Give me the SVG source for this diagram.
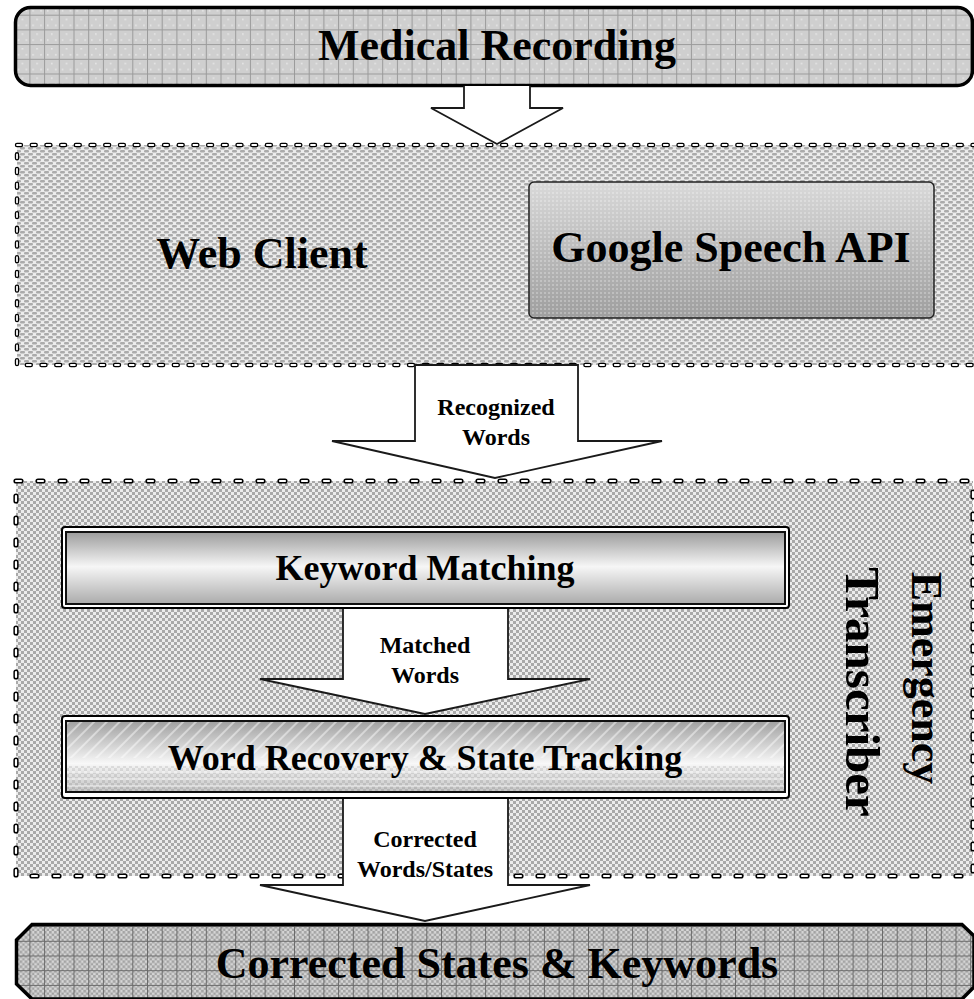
<svg xmlns="http://www.w3.org/2000/svg" width="974" height="999" viewBox="0 0 974 999">
  <defs>
    <!-- light grid with small dots -->
    <pattern id="gridLight" width="14.7" height="14.7" patternUnits="userSpaceOnUse">
      <rect width="14.7" height="14.7" fill="#cfcfcf"/>
      <path d="M0 0.5H14.7M0.5 0V14.7" stroke="#9a9a9a" stroke-width="1"/>
      <rect x="7" y="4" width="1.4" height="1.4" fill="#eeeeee"/>
      <rect x="3" y="10" width="1.4" height="1.4" fill="#eeeeee"/>
      <rect x="11" y="10" width="1.4" height="1.4" fill="#eeeeee"/>
    </pattern>
    <!-- brick dot fill -->
    <pattern id="brick" width="8" height="6" patternUnits="userSpaceOnUse">
      <rect width="8" height="6" fill="#ececec"/>
      <rect x="0" y="0" width="5" height="2.4" rx="1.2" fill="#ababab"/>
      <rect x="4" y="3" width="5" height="2.4" rx="1.2" fill="#ababab"/>
      <rect x="-4" y="3" width="5" height="2.4" rx="1.2" fill="#ababab"/>
    </pattern>
    <!-- checker fill -->
    <pattern id="checker" width="6" height="6" patternUnits="userSpaceOnUse">
      <rect width="6" height="6" fill="#ececec"/>
      <rect x="0" y="0" width="3" height="3" fill="#a9a9a9"/>
      <rect x="3" y="3" width="3" height="3" fill="#a9a9a9"/>
    </pattern>
    <!-- darker checker with grid -->
    <pattern id="checkerGrid" width="14.7" height="14.7" patternUnits="userSpaceOnUse">
      <rect width="14.7" height="14.7" fill="url(#checkerDark)"/>
      <path d="M0 0.5H14.7M0.5 0V14.7" stroke="#6a6a6a" stroke-width="1"/>
    </pattern>
    <pattern id="checkerDark" width="5" height="5" patternUnits="userSpaceOnUse">
      <rect width="5" height="5" fill="#d6d6d6"/>
      <rect x="0" y="0" width="2.5" height="2.5" fill="#a2a2a2"/>
      <rect x="2.5" y="2.5" width="2.5" height="2.5" fill="#a2a2a2"/>
    </pattern>
    <pattern id="fineDots" width="4" height="4" patternUnits="userSpaceOnUse">
      <rect x="0" y="0" width="2" height="2" fill="#ffffff" opacity="0.25"/>
    </pattern>
    <pattern id="diag" width="9" height="9" patternUnits="userSpaceOnUse" patternTransform="rotate(45)">
      <rect x="0" y="0" width="2" height="9" fill="#ffffff" opacity="0.45"/>
    </pattern>
    <linearGradient id="gApi" x1="0" y1="0" x2="0" y2="1">
      <stop offset="0" stop-color="#d9d9d9"/>
      <stop offset="1" stop-color="#9e9e9e"/>
    </linearGradient>
    <linearGradient id="gBar" x1="0" y1="0" x2="0" y2="1">
      <stop offset="0" stop-color="#9c9c9c"/>
      <stop offset="0.48" stop-color="#f6f6f6"/>
      <stop offset="1" stop-color="#ababab"/>
    </linearGradient>
    <linearGradient id="gBar2" x1="0" y1="0" x2="0" y2="1">
      <stop offset="0" stop-color="#a0a0a0"/>
      <stop offset="0.6" stop-color="#f8f8f8"/>
      <stop offset="1" stop-color="#b4b4b4"/>
    </linearGradient>
  </defs>
  <style>
    .t { font-family: "Liberation Serif", "Times New Roman", serif; font-weight: bold; fill: #000; text-anchor: middle; }
    .big { font-size: 44px; }
    .mid { font-size: 36px; }
    .lab { font-size: 24px; }
    .arrow { fill: #fff; stroke: #1a1a1a; stroke-width: 1.8; stroke-linejoin: miter; }
    .dashOut { fill: none; stroke: #000; stroke-linecap: round; }
    .dashIn { fill: none; stroke: #fff; stroke-linecap: round; }
  </style>

  <rect width="974" height="999" fill="#fff"/>

  <!-- source block -->
  <g id="medical-recording">
    <rect x="15.5" y="7.5" width="957" height="78" rx="15" fill="url(#gridLight)" stroke="#000" stroke-width="3.5"/>
    <text class="t big" x="497" y="60">Medical Recording</text>
  </g>

  <!-- client container -->
  <g id="web-client">
    <rect x="17" y="145" width="970" height="220" fill="url(#brick)"/>
    <rect x="17" y="145" width="970" height="220" class="dashOut" stroke-width="4.4" stroke-dasharray="4 10.7"/>
    <rect x="17" y="145" width="970" height="220" class="dashIn" stroke-width="1.8" stroke-dasharray="4 10.7"/>
    <text class="t big" x="262" y="268">Web Client</text>
  </g>

  <g id="google-speech-api">
    <rect x="529" y="182" width="405" height="136" rx="5" fill="url(#gApi)" stroke="#222" stroke-width="1.5"/>
    <rect x="530" y="183" width="403" height="134" rx="5" fill="url(#fineDots)"/>
    <text class="t big" x="731" y="262">Google Speech API</text>
  </g>

  <!-- transcriber container -->
  <g id="emergency-transcriber">
    <rect x="16" y="481" width="957" height="395" fill="url(#checker)"/>
    <rect x="16" y="481" width="957" height="395" class="dashOut" stroke-width="5.2" stroke-dasharray="5 17"/>
    <rect x="16" y="481" width="957" height="395" class="dashIn" stroke-width="2.2" stroke-dasharray="5 17"/>
    <text class="t big" transform="translate(912 678) rotate(90)">Emergency</text>
    <text class="t" style="font-size:49px" transform="translate(846 692) rotate(90)">Transcriber</text>
  </g>

  <g id="keyword-matching">
    <rect x="62" y="527" width="727" height="81" rx="3" fill="#fff" stroke="#000" stroke-width="2"/>
    <rect x="66" y="532" width="719" height="72" fill="url(#gBar)" stroke="#111" stroke-width="2"/>
    <text class="t mid" x="425" y="580">Keyword Matching</text>
  </g>

  <g id="word-recovery">
    <rect x="62" y="716" width="727" height="82" rx="3" fill="#fff" stroke="#000" stroke-width="2"/>
    <rect x="66" y="721" width="719" height="71" fill="url(#gBar2)" stroke="#111" stroke-width="2"/>
    <rect x="67" y="722" width="717" height="36" fill="url(#diag)"/>
    <rect x="67" y="766" width="717" height="25" fill="url(#checker)" opacity="0.3"/>
    <path d="M67 772H784M67 779H784M67 786H784" stroke="#fff" stroke-width="1.2" opacity="0.8"/>
    <text class="t mid" x="425" y="770">Word Recovery &amp; State Tracking</text>
  </g>

  <!-- output block -->
  <g id="corrected-states">
    <path d="M32 924.5H962L974 936V987L962 999H32L16.5 984V940Z" fill="url(#checkerGrid)" stroke="#000" stroke-width="3.5"/>
    <text class="t big" x="497" y="978">Corrected States &amp; Keywords</text>
  </g>

  <!-- block arrows between stages -->
  <g id="connectors">
    <g id="arrow-recording-client">
      <path class="arrow" d="M464 86V108H431L497 144L563 108H530V86"/>
    </g>
    <g id="arrow-recognized-words">
      <path class="arrow" d="M415 365H578V441H662L495 478L332 441H415Z"/>
      <text class="t lab" x="496" y="415">Recognized</text>
      <text class="t lab" x="496" y="445">Words</text>
    </g>
    <g id="arrow-matched-words">
      <path class="arrow" d="M343 609V679H260L425 714L590 679H508V609"/>
      <text class="t lab" x="425" y="653">Matched</text>
      <text class="t lab" x="425" y="683">Words</text>
    </g>
    <g id="arrow-corrected-words">
      <path class="arrow" d="M343 799V885H260L425 921L590 885H508V799"/>
      <text class="t lab" x="425" y="847">Corrected</text>
      <text class="t lab" x="425" y="877">Words/States</text>
    </g>
  </g>
</svg>
